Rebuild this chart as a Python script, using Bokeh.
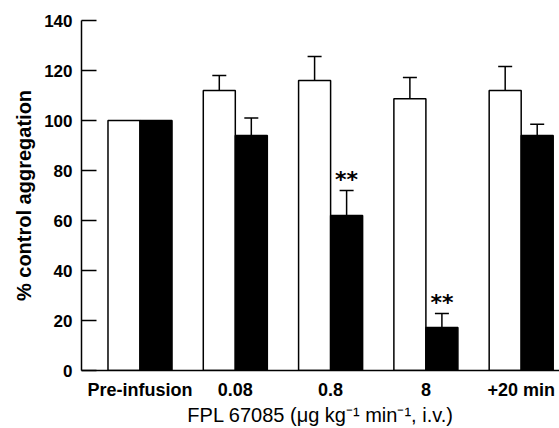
import numpy as np
from bokeh.plotting import figure
from bokeh.models import (ColumnDataSource, Range1d, FixedTicker, Whisker, TeeHead)
from bokeh.core.properties import value
from bokeh.embed import file_html
from bokeh.resources import INLINE

# ---- data ----
categories = ["Pre-infusion", "0.08", "0.8", "8", "+20 min"]
control = [100, 112, 116, 108.7, 112]
control_err = [0, 6, 9.6, 8.5, 9.6]
treated = [100, 94, 62, 17.2, 94]
treated_err = [0, 7, 10, 5.6, 4.5]
significance = ["", "", "**", "**", ""]
y_ticks = [0, 20, 40, 60, 80, 100, 120, 140]

BAR_W = 0.336
idx = np.arange(len(categories))
x_white = idx - BAR_W / 2
x_black = idx + BAR_W / 2

FONT = "Liberation Sans"

p = figure(width=559, height=428, output_backend="svg", toolbar_location=None,
           x_range=Range1d(-0.614, 4.402), y_range=Range1d(0, 140),
           min_border_left=81, min_border_right=0, min_border_top=20,
           min_border_bottom=58)
p.outline_line_color = None
p.background_fill_color = "white"
p.border_fill_color = "white"
p.xgrid.visible = False
p.ygrid.visible = False

src_w = ColumnDataSource(dict(x=x_white, top=control))
src_b = ColumnDataSource(dict(x=x_black, top=treated))
p.vbar(x="x", top="top", width=BAR_W, source=src_w, fill_color="white",
       line_color="black", line_width=1.5)
p.vbar(x="x", top="top", width=BAR_W, source=src_b, fill_color="black",
       line_color="black", line_width=1.5)

# error bars (upper only)
ex, elo, ehi = [], [], []
for xs, vals, errs in ((x_white, control, control_err), (x_black, treated, treated_err)):
    for xv, v, e in zip(xs, vals, errs):
        if e > 0:
            ex.append(xv); elo.append(v); ehi.append(v + e)
err_src = ColumnDataSource(dict(base=ex, lower=elo, upper=ehi))
p.add_layout(Whisker(base="base", lower="lower", upper="upper", source=err_src,
                     dimension="height", line_color="black", line_width=1.5,
                     upper_head=TeeHead(size=14, line_width=1.5, line_color="black"),
                     lower_head=None))

# significance stars
sx, sy, st = [], [], []
for xv, v, e, s in zip(x_black, treated, treated_err, significance):
    if s:
        sx.append(xv); sy.append(v + e); st.append(s)
p.text(x=sx, y=sy, text=st, text_align="center", text_baseline="alphabetic",
       y_offset=-11, text_font=value("DejaVu Sans"), text_font_style="bold",
       text_font_size="22px", text_color="black")

# axes
p.yaxis.ticker = FixedTicker(ticks=y_ticks)
p.yaxis.major_tick_in = 15
p.yaxis.major_tick_out = 0
p.yaxis.minor_tick_line_color = None
p.yaxis.major_tick_line_width = 1.5
p.yaxis.axis_line_width = 1.5
p.yaxis.major_label_standoff = 9
p.yaxis.major_label_text_font = FONT
p.yaxis.major_label_text_font_style = "bold"
p.yaxis.major_label_text_font_size = "17px"
p.yaxis.major_label_text_color = "black"
p.yaxis.axis_label = "% control aggregation"
p.yaxis.axis_label_text_font = FONT
p.yaxis.axis_label_text_font_style = "bold"
p.yaxis.axis_label_text_font_size = "20px"
p.yaxis.axis_label_text_color = "black"
p.yaxis.axis_label_standoff = 6

p.xaxis.ticker = FixedTicker(ticks=list(idx))
p.xaxis.major_label_overrides = {int(i): c for i, c in zip(idx, categories)}
p.xaxis.major_tick_in = 0
p.xaxis.major_tick_out = 0
p.xaxis.minor_tick_line_color = None
p.xaxis.axis_line_width = 1.5
p.xaxis.major_label_standoff = 9
p.xaxis.major_label_text_font = FONT
p.xaxis.major_label_text_font_style = "bold"
p.xaxis.major_label_text_font_size = "18px"
p.xaxis.major_label_text_color = "black"
p.xaxis.axis_label = "FPL 67085 (\u03bcg kg\u207b\u00b9 min\u207b\u00b9, i.v.)"
p.xaxis.axis_label_text_font = FONT
p.xaxis.axis_label_text_font_style = "normal"
p.xaxis.axis_label_text_font_size = "20px"
p.xaxis.axis_label_text_color = "black"
p.xaxis.axis_label_standoff = 1

open("out.html", "w").write(file_html(p, INLINE))
